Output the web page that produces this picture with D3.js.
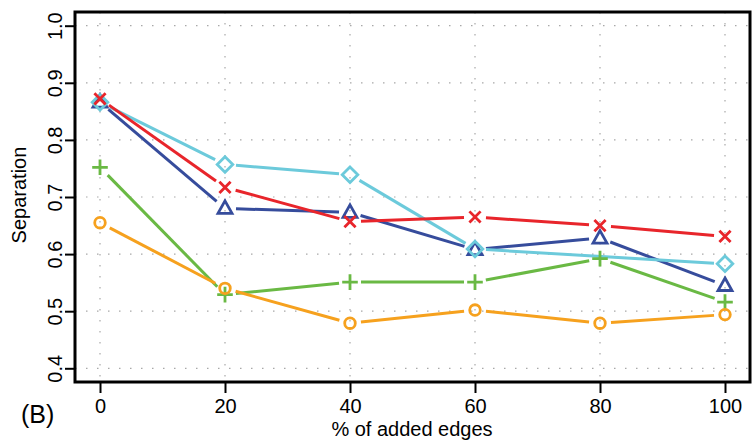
<!DOCTYPE html>
<html>
<head>
<meta charset="utf-8">
<script src="https://cdn.jsdelivr.net/npm/d3@7"></script>
<style>
  html, body { margin: 0; padding: 0; background: #fff; }
  svg { display: block; }
  text { font-family: "Liberation Sans", Arial, Helvetica, sans-serif; fill: #000; }
</style>
</head>
<body>
<svg id="chart" width="752" height="440"></svg>
<script>
// ---- data ----
const xTicks = [0, 20, 40, 60, 80, 100];
const yTicks = [0.4, 0.5, 0.6, 0.7, 0.8, 0.9, 1.0];
const xTickLabels = ["0", "20", "40", "60", "80", "100"];
const yTickLabels = ["0.4", "0.5", "0.6", "0.7", "0.8", "0.9", "1.0"];

const blueX   = [0, 20, 40, 60, 80, 100];
const blueY   = [0.866, 0.680, 0.673, 0.608, 0.628, 0.545];
const cyanX   = [0, 20, 40, 60, 100];
const cyanY   = [0.866, 0.757, 0.739, 0.609, 0.583];
const greenX  = [0, 20, 40, 60, 80, 100];
const greenY  = [0.752, 0.529, 0.551, 0.551, 0.592, 0.516];
const orangeX = [0, 20, 40, 60, 80, 100];
const orangeY = [0.655, 0.540, 0.479, 0.502, 0.479, 0.494];
const redX    = [0, 20, 40, 60, 80, 100];
const redY    = [0.872, 0.717, 0.657, 0.665, 0.650, 0.631];

const xTitle = "% of added edges";
const yTitle = "Separation";
const panelLabel = "(B)";

(function () {
// ---- layout ----
const pLeft = 75, pRight = 750, pTop = 12, pBottom = 382;
const svg = d3.select("#chart");

const x = d3.scaleLinear().domain([-4, 104]).range([pLeft, pRight]);
const y = d3.scaleLinear().domain([0.376, 1.024]).range([pBottom, pTop]);

// grid
const grid = svg.append("g").attr("stroke", "#a8a8a8").attr("stroke-width", 1.2)
  .attr("stroke-dasharray", "1.5,9.5");
yTicks.forEach(t => {
  grid.append("line").attr("x1", pLeft).attr("x2", pRight)
    .attr("y1", y(t)).attr("y2", y(t));
});
xTicks.forEach(t => {
  grid.append("line").attr("x1", x(t)).attr("x2", x(t))
    .attr("y1", pTop).attr("y2", pBottom);
});

// axes
const xAxis = d3.axisBottom(x).tickValues(xTicks).tickFormat((d, i) => xTickLabels[i])
  .tickSizeInner(11).tickSizeOuter(0).tickPadding(3);
const gx = svg.append("g").attr("transform", `translate(0,${pBottom})`).call(xAxis);
gx.select(".domain").remove();
gx.selectAll(".tick line").attr("stroke", "#000").attr("stroke-width", 2);
gx.selectAll(".tick text").attr("font-size", 20).attr("y", 31).attr("dy", null)
  .style("font-family", '"Liberation Sans", Arial, sans-serif');

const yAxis = d3.axisLeft(y).tickValues(yTicks).tickFormat((d, i) => yTickLabels[i])
  .tickSizeInner(10).tickSizeOuter(0);
const gy = svg.append("g").attr("transform", `translate(${pLeft},0)`).call(yAxis);
gy.select(".domain").remove();
gy.selectAll(".tick line").attr("stroke", "#000").attr("stroke-width", 2);
gy.selectAll(".tick text")
  .attr("font-size", 20)
  .attr("x", null).attr("dy", null)
  .attr("text-anchor", "middle")
  .attr("transform", "translate(-13,0) rotate(-90)")
  .style("font-family", '"Liberation Sans", Arial, sans-serif');

// box
svg.append("rect").attr("x", pLeft).attr("y", pTop)
  .attr("width", pRight - pLeft).attr("height", pBottom - pTop)
  .attr("fill", "none").attr("stroke", "#000").attr("stroke-width", 3);

// titles
svg.append("text").attr("x", 412).attr("y", 436).attr("text-anchor", "middle")
  .attr("font-size", 20).text(xTitle);
svg.append("text").attr("transform", "translate(26,195) rotate(-90)")
  .attr("text-anchor", "middle").attr("font-size", 20).text(yTitle);
svg.append("text").attr("x", 21).attr("y", 423).attr("font-size", 25).text(panelLabel);

// series drawing (type="b": lines with gaps round points)
const gap = 11;
function drawSeries(xs, ys, color, shape) {
  const g = svg.append("g");
  for (let i = 0; i < xs.length - 1; i++) {
    const x1 = x(xs[i]), y1 = y(ys[i]), x2 = x(xs[i + 1]), y2 = y(ys[i + 1]);
    const len = Math.hypot(x2 - x1, y2 - y1);
    if (len <= 2 * gap) continue;
    const ux = (x2 - x1) / len, uy = (y2 - y1) / len;
    g.append("line")
      .attr("x1", x1 + ux * gap).attr("y1", y1 + uy * gap)
      .attr("x2", x2 - ux * gap).attr("y2", y2 - uy * gap)
      .attr("stroke", color).attr("stroke-width", 3);
  }
  xs.forEach((xv, i) => {
    const cx = x(xv), cy = y(ys[i]);
    let d;
    if (shape === "circle") {
      g.append("circle").attr("cx", cx).attr("cy", cy).attr("r", 5.3)
        .attr("fill", "none").attr("stroke", color).attr("stroke-width", 2.8);
      return;
    } else if (shape === "triangle") {
      const h = 12.5, w = 14;
      d = `M${cx},${cy - h * 0.6}L${cx + w / 2},${cy + h * 0.4}L${cx - w / 2},${cy + h * 0.4}Z`;
    } else if (shape === "diamond") {
      const r = 7.8;
      d = `M${cx},${cy - r}L${cx + r},${cy}L${cx},${cy + r}L${cx - r},${cy}Z`;
    } else if (shape === "plus") {
      const r = 7.8;
      d = `M${cx - r},${cy}L${cx + r},${cy}M${cx},${cy - r}L${cx},${cy + r}`;
    } else if (shape === "cross") {
      const r = 5.6;
      d = `M${cx - r},${cy - r}L${cx + r},${cy + r}M${cx - r},${cy + r}L${cx + r},${cy - r}`;
    }
    g.append("path").attr("d", d).attr("fill", "none").attr("stroke", color)
      .attr("stroke-width", 2.8).attr("stroke-linejoin", "miter");
  });
}

drawSeries(blueX, blueY, "#364c9c", "triangle");
drawSeries(cyanX, cyanY, "#6ccadb", "diamond");
drawSeries(greenX, greenY, "#6ab944", "plus");
drawSeries(orangeX, orangeY, "#f6a11e", "circle");
drawSeries(redX, redY, "#e8252b", "cross");
})();
</script>
</body>
</html>
